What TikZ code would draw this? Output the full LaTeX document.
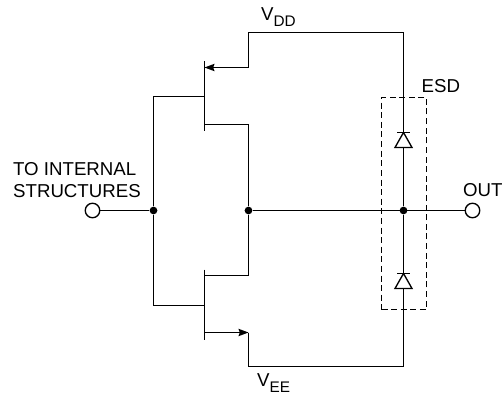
\documentclass[tikz,border=0pt]{standalone}
\usepackage{fontspec}
\setmainfont{Liberation Sans}
\usetikzlibrary{arrows.meta}
\newcommand{\railname}[2]{#1\raisebox{-0.3em}{\fontsize{11.5}{12}\selectfont #2}}
\begin{document}
\begin{tikzpicture}[x=0.75pt, y=-0.75pt, line width=1pt, line cap=butt]
  \tikzstyle{label} = [inner sep=0pt, font=\fontsize{14}{16.5}\selectfont]
  \tikzstyle{pin} = [circle, draw, fill=white, minimum size=14.5*0.75pt, inner sep=0pt]
  \tikzstyle{junction} = [circle, fill=black, minimum size=5.8pt, inner sep=0pt]
  \tikzstyle{esdbox} = [draw, line width=0.8pt, dash pattern=on 4.5pt off 2.7pt, minimum width=45*0.75pt, minimum height=212*0.75pt, inner sep=0pt]
  \tikzstyle{flow} = [-{Stealth[length=7.5pt, width=5.5pt, inset=1pt]}]
  \useasboundingbox (-0.5,-0.5) rectangle (502.5,398.5);

  % terminals and junctions
  \node [pin] (in) at (92,210) {};
  \node [pin] (out) at (472,210) {};
  \node [junction] (gatejoin) at (153,210) {};
  \node [junction] (drainjoin) at (248,210) {};
  \node [junction] (outjoin) at (403,210) {};

  % rail corners
  \coordinate (vddleft) at (248,32);
  \coordinate (vddright) at (403,32);
  \coordinate (veeleft) at (248,366);
  \coordinate (veeright) at (403,366);

  % upper transistor
  \coordinate (upbartop) at (204,61);
  \coordinate (upbarbot) at (204,131);
  \coordinate (upsource) at (204,67);
  \coordinate (upgate) at (204,96);
  \coordinate (updrain) at (204,124);
  \draw (upbartop) -- (upbarbot);
  \draw [flow] (vddleft) |- (upsource);
  \draw (gatejoin) |- (upgate);
  \draw (updrain) -| (drainjoin);

  % lower transistor
  \coordinate (lowbartop) at (204,269);
  \coordinate (lowbarbot) at (204,339);
  \coordinate (lowdrain) at (204,275);
  \coordinate (lowgate) at (204,305);
  \coordinate (lowsource) at (204,332);
  \coordinate (lowcorner) at (248,332);
  \draw (lowbartop) -- (lowbarbot);
  \draw (lowdrain) -| (drainjoin);
  \draw (gatejoin) |- (lowgate);
  \draw [flow] (lowsource) -- (lowcorner);
  \draw (lowcorner) -- (veeleft);

  % rails
  \draw (vddleft) -- (vddright) -- (outjoin);
  \draw (veeleft) -- (veeright) -- (outjoin);
  \draw (in) -- (gatejoin);
  \draw (drainjoin) -- (out);

  % diodes
  \draw [fill=white] (403,132) -- (394.5,147) -- (411.5,147) -- cycle;
  \draw (396.5,132) -- (409.5,132);
  \draw [fill=white] (403,273) -- (394.5,288) -- (411.5,288) -- cycle;
  \draw (396.5,273) -- (409.5,273);

  \node [esdbox] (esd) at (403.5,203) {};

  % labels
  \node [label, anchor=base west] (vdd) at (260,20) {\railname{V}{DD}};
  \node [label, anchor=base west] (vee) at (256,386) {\railname{V}{EE}};
  \node [label, anchor=base west] (esdtext) at (420.5,92) {ESD};
  \node [label, anchor=base west] (outtext) at (462,196) {OUT};
  \node [label, anchor=base west, align=left] (intext) at (12,197) {TO INTERNAL\\STRUCTURES};
\end{tikzpicture}
\end{document}
